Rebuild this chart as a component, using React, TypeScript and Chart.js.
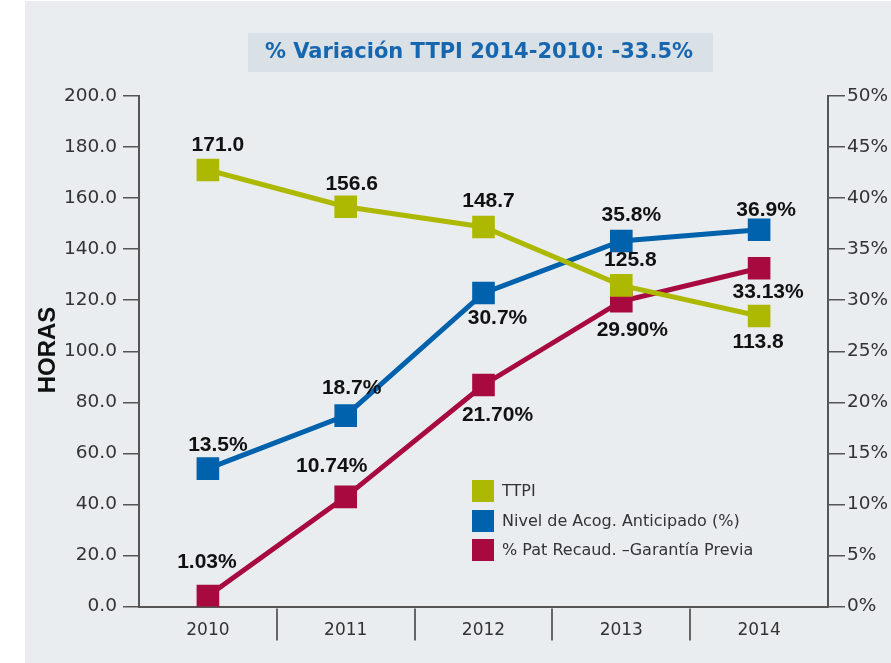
import React, { useEffect, useRef } from "react";
import { Chart, registerables } from "chart.js";

Chart.register(...registerables);

const years = ["2010", "2011", "2012", "2013", "2014"];
const ttpi = [171.0, 156.6, 148.7, 125.8, 113.8];
const nivel = [13.5, 18.7, 30.7, 35.8, 36.9];
const patRecaud = [1.03, 10.74, 21.7, 29.9, 33.13];

const seriesNames = ["TTPI", "Nivel de Acog. Anticipado (%)", "% Pat Recaud. \u2013Garantía Previa"];
const titleText = "% Variación TTPI 2014-2010: -33.5%";
const yTitle = "HORAS";

const GREEN = "#adb900";
const BLUE = "#0061ac";
const CRIMSON = "#a80a40";

// label offsets (dx, dy) relative to each point
const labelOffsets = [
  [[10, -25], [6, -23], [5, -26], [9, -25], [-1, 26]],
  [[10, -23], [6, -27], [14, 25], [10, -26], [7, -20]],
  [[-1, -34], [-14, -31], [14, 30], [11, 29], [9, 24]],
];
const labelFormats = [
  (v: number) => v.toFixed(1),
  (v: number) => v.toFixed(1) + "%",
  (v: number) => v.toFixed(2) + "%",
];

const REG = "'DejaVu Sans', sans-serif";
const BOLD = "'Liberation Sans', Arial, sans-serif";

const decorPlugin = {
  id: "decor",
  beforeDraw(chart: any) {
    const ctx = chart.ctx;
    ctx.save();
    // title box
    ctx.fillStyle = "#d9e0e6";
    ctx.fillRect(248, 33, 465, 39);
    ctx.fillStyle = "#1766b0";
    ctx.font = "bold 21px " + REG;
    ctx.textAlign = "center";
    ctx.textBaseline = "middle";
    ctx.fillText(titleText, 479, 53);
    // y title
    ctx.save();
    ctx.translate(48, 350);
    ctx.rotate(-Math.PI / 2);
    ctx.fillStyle = "#111";
    ctx.font = "bold 24px " + BOLD;
    ctx.fillText(yTitle, 0, 0);
    ctx.restore();
    ctx.restore();
  },
  afterDraw(chart: any) {
    const ctx = chart.ctx;
    const xs = chart.scales.x;
    const area = chart.chartArea;
    ctx.save();
    // separators below x axis
    ctx.strokeStyle = "#666";
    ctx.lineWidth = 2;
    for (let i = 0; i < years.length - 1; i++) {
      const x = Math.round((xs.getPixelForValue(i) + xs.getPixelForValue(i + 1)) / 2);
      ctx.beginPath();
      ctx.moveTo(x, area.bottom + 2);
      ctx.lineTo(x, area.bottom + 34);
      ctx.stroke();
    }
    // legend
    const colors = [GREEN, BLUE, CRIMSON];
    const tops = [480, 510, 539];
    ctx.font = "16px " + REG;
    ctx.textAlign = "left";
    ctx.textBaseline = "middle";
    for (let i = 0; i < 3; i++) {
      ctx.fillStyle = colors[i];
      ctx.fillRect(472, tops[i], 22, 22);
      ctx.fillStyle = "#333";
      ctx.fillText(seriesNames[i], 502, tops[i] + 12);
    }
    // data labels
    ctx.font = "bold 21px " + BOLD;
    ctx.textAlign = "center";
    ctx.fillStyle = "#111";
    chart.data.datasets.forEach((ds: any, di: number) => {
      const meta = chart.getDatasetMeta(di);
      meta.data.forEach((pt: any, i: number) => {
        const [dx, dy] = labelOffsets[di][i];
        ctx.fillText(labelFormats[di](ds.data[i]), pt.x + dx, pt.y + dy);
      });
    });
    ctx.restore();
  },
};

export default function App() {
  const ref = useRef<HTMLCanvasElement>(null);
  useEffect(() => {
    if (!ref.current) return;
    const mk = (label: string, data: number[], color: string, axis: string) => ({
      label,
      data,
      borderColor: color,
      backgroundColor: color,
      borderWidth: 5,
      pointStyle: "rect",
      pointRadius: 16,
      pointHoverRadius: 16,
      pointBorderWidth: 0,
      pointBackgroundColor: color,
      yAxisID: axis,
      tension: 0,
    });
    const chart = new Chart(ref.current, {
      type: "line",
      data: {
        labels: years,
        datasets: [
          mk(seriesNames[0], ttpi, GREEN, "y"),
          mk(seriesNames[1], nivel, BLUE, "y1"),
          mk(seriesNames[2], patRecaud, CRIMSON, "y1"),
        ],
      },
      options: {
        responsive: false,
        animation: false,
        layout: { padding: { top: 96, left: 0, right: 0, bottom: 0 } },
        plugins: { legend: { display: false }, tooltip: { enabled: false }, title: { display: false } },
        scales: {
          x: {
            offset: true,
            afterFit: (s: any) => { s.height = 56.5; },
            grid: { display: false, drawTicks: false },
            border: { display: true, color: "#555", width: 2 },
            ticks: { color: "#333", font: { family: REG, size: 17 }, padding: 14 },
          },
          y: {
            position: "left",
            min: 0,
            max: 200,
            afterFit: (s: any) => { s.width = 139; },
            grid: { drawOnChartArea: false, color: "#555", lineWidth: 1.5, tickLength: 16 },
            border: { display: true, color: "#555", width: 2 },
            ticks: {
              stepSize: 20,
              color: "#333",
              padding: 6,
              font: { family: REG, size: 18.5 },
              callback: (v: any) => Number(v).toFixed(1),
            },
          },
          y1: {
            position: "right",
            min: 0,
            max: 50,
            afterFit: (s: any) => { s.width = 63; },
            grid: { drawOnChartArea: false, color: "#555", lineWidth: 1.5, tickLength: 17 },
            border: { display: true, color: "#555", width: 2 },
            ticks: {
              stepSize: 5,
              color: "#333",
              padding: 2,
              font: { family: REG, size: 18.5 },
              callback: (v: any) => v + "%",
            },
          },
        },
      } as any,
      plugins: [decorPlugin],
    });
    return () => chart.destroy();
  }, []);
  return (
    <div style={{ position: "absolute", left: 0, top: 0, width: 891, height: 663, background: "#fff" }}>
      <div style={{ position: "absolute", left: 25, top: 1, width: 866, height: 662, background: "#e9edf0" }} />
      <canvas ref={ref} width={891} height={663} style={{ position: "absolute", left: 0, top: 0 }} />
    </div>
  );
}
